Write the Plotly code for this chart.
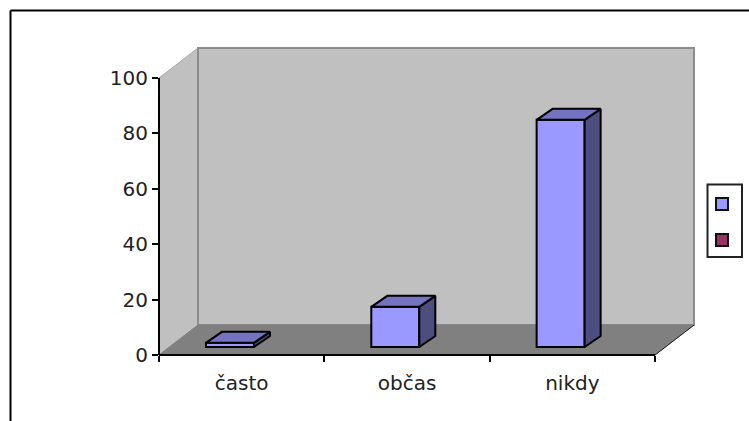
import plotly.graph_objects as go

categories = ["často", "občas", "nikdy"]
values = [1.5, 14.5, 82]
y_tick_values = [0, 20, 40, 60, 80, 100]
series_colors = ["#9999FF", "#993366"]

# plot-area geometry in pixels
W, H = 749, 421
L, R, T, B = 159, 694, 48, 355
AXIS_R = 655
AXIS_T = 78
ux = (AXIS_R - L) / 3          # px per category
uy = (B - AXIS_T) / 100        # px per value unit
dx = (R - AXIS_R) / ux         # wall depth, data units
dy = (AXIS_T - T) / uy
x_lo, x_hi = -0.5, 2.5 + dx
y_lo, y_hi = 0, 100 + dy

bar_w = 48 / ux
bar_shift = -11.7 / ux
base = 8 / uy
bar_dx = 16 / ux
bar_dy = 11 / uy

FRONT, TOP, SIDE = "#9999FF", "#7373BF", "#4D4D80"
EDGE = dict(color="#000000", width=2)
fig = go.Figure()
x_pos = list(range(len(categories)))

# side and top faces of each column
for xc, v in zip(x_pos, values):
    x0 = xc + bar_shift - bar_w / 2
    x1 = x0 + bar_w
    y0, y1 = base, base + v
    fig.add_trace(go.Scatter(
        x=[x1, x1 + bar_dx, x1 + bar_dx, x1, x1], y=[y0, y0 + bar_dy, y1 + bar_dy, y1, y0],
        mode="lines", fill="toself", fillcolor=SIDE, line=EDGE,
        showlegend=False, hoverinfo="skip"))
    fig.add_trace(go.Scatter(
        x=[x0, x1, x1 + bar_dx, x0 + bar_dx, x0], y=[y1, y1, y1 + bar_dy, y1 + bar_dy, y1],
        mode="lines", fill="toself", fillcolor=TOP, line=EDGE,
        showlegend=False, hoverinfo="skip"))

# front faces
fig.add_trace(go.Bar(
    x=x_pos, y=values, base=base, width=bar_w, offset=bar_shift - bar_w / 2,
    marker=dict(color=FRONT, line=EDGE), showlegend=False))


def px(x):
    return (x - L) / (R - L)


def py(y):
    return (B - y) / (B - T)


def poly(points, fill, line=None, width=1):
    path = "M " + " L ".join(f"{px(a):.5f},{py(b):.5f}" for a, b in points) + " Z"
    return dict(type="path", xref="paper", yref="paper", path=path, fillcolor=fill,
                line=dict(color=line or fill, width=width), layer="below")


def seg(x0, y0, x1, y1, color="#000000", width=2, layer="above"):
    return dict(type="line", xref="paper", yref="paper", x0=px(x0), y0=py(y0), x1=px(x1), y1=py(y1),
                line=dict(color=color, width=width), layer=layer)


shapes = [
    poly([(L, AXIS_T), (198, T), (198, 325), (L, B)], "#C0C0C0", "#A8A8A8"),
    poly([(198, T), (R, T), (R, 325), (198, 325)], "#C0C0C0", "#8C8C8C", 2),
    poly([(L, B), (198, 325), (R, 325), (AXIS_R, B)], "#808080"),
    seg(AXIS_R, B, R, 325, "#222222", 1, "below"),
    seg(L, AXIS_T, L, B),
    seg(L, B, AXIS_R, B),
    # outer frame
    seg(10.5, 10.5, 749, 10.5),
    seg(10.5, 10.5, 10.5, 421),
    # legend
    dict(type="rect", xref="paper", yref="paper", x0=px(707.5), x1=px(742), y0=py(184.5), y1=py(257),
         line=dict(color="#222222", width=2), fillcolor="#FFFFFF"),
]
for yy, c in zip([198, 234], series_colors):
    shapes.append(dict(type="rect", xref="paper", yref="paper", x0=px(716), x1=px(728), y0=py(yy), y1=py(yy + 12),
                       line=dict(color="#111111", width=2), fillcolor=c))

fig.update_layout(
    width=W, height=H,
    margin=dict(l=L, r=W - R, t=T, b=H - B, pad=0),
    paper_bgcolor="#FFFFFF", plot_bgcolor="rgba(0,0,0,0)",
    showlegend=False,
    shapes=shapes,
    font=dict(family="DejaVu Sans", size=20, color="#222222"),
    xaxis=dict(range=[x_lo, x_hi], tickmode="array", tickvals=x_pos, ticktext=categories,
               ticks="", showgrid=False, zeroline=False, showline=False, ticklabelstandoff=14,
               minor=dict(tickmode="array", tickvals=[-0.5, 0.5, 1.5, 2.5], ticks="outside", ticklen=6,
                          tickcolor="#000000", tickwidth=2, showgrid=False)),
    yaxis=dict(range=[y_lo, y_hi], tickmode="array", tickvals=y_tick_values, ticks="outside", ticklen=6,
               tickcolor="#000000", tickwidth=2, showgrid=False, zeroline=False, showline=False),
)

fig.write_html("out.html", config={"displayModeBar": False},
               post_script="document.body.style.margin='0';document.body.style.overflow='hidden';")
